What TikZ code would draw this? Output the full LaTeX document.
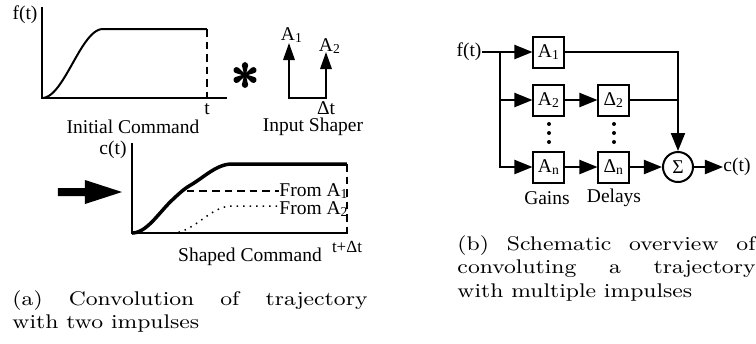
\documentclass[tikz,border=0pt]{standalone}
\usepackage{fontspec}
\newfontfamily\figserif{Liberation Serif}
\usetikzlibrary{arrows.meta, positioning}

\newcommand{\figlabel}{\figserif\fontsize{7.8pt}{9pt}\selectfont}

\begin{document}
\begin{tikzpicture}[
    x=0.4pt, y=-0.4pt,
    declare function={st(\u)=(1-cos(180*min(max(\u,0),1)))/2;},
    lbl/.style={inner sep=0pt, font=\figlabel},
    axis/.style={line width=0.6pt},
    dashline/.style={line width=0.6pt, dash pattern=on 3pt off 2pt},
    impulse/.style={{Triangle[length=6.8pt, width=4.6pt]}-{Triangle[length=6.8pt, width=4.6pt]}, line width=0.7pt},
    block/.style={rectangle, draw, line width=0.8pt, minimum size=12.4pt, inner sep=0pt, font=\figlabel},
    wire/.style={line width=0.8pt},
    arrow/.style={-{Triangle[length=7.2pt, width=5.6pt]}, line width=0.8pt},
    caption/.style={anchor=north west, inner sep=0pt, align=justify, yscale=0.86, transform shape, font=\fontsize{9.2pt}{11pt}\selectfont},
]
\useasboundingbox (0,0) rectangle (756,343);

% Initial command
\draw[axis] (42,7) -- (42,98) -- (227,98);
\node[lbl] (fof) at (25,15) {f(t)};
\draw[line width=0.8pt] plot[domain=42:103, samples=40] (\x, {98-69*st((\x-42)/61)}) -- (207,29);
\draw[dashline] (207,29) -- (207,98);
\node[lbl] (tend) at (207,109) {t};
\node[lbl] (initcmd) at (133,127) {Initial Command};

% Convolution sign
\begin{scope}[shift={(245,75)}]
  \foreach \a in {30,90,...,330}
    \fill[rotate=\a] (0pt,0.35pt) -- (3.9pt,1.25pt) arc[start angle=90, end angle=-90, radius=1.25pt] -- (0pt,-0.35pt) -- cycle;
\end{scope}

% Input shaper
\draw[impulse] (289,43) -- (289,98) -- (326,98) -- (326,52);
\node[lbl] (amp1) at (292,35) {A\textsubscript{1}};
\node[lbl] (amp2) at (330,46) {A\textsubscript{2}};
\node[lbl] (shift) at (326,108) {Δt};
\node[lbl] (shaper) at (313,127) {Input Shaper};

% Result
\fill (58,188) -- (85,188) -- (85,180) -- (122,192) -- (85,204) -- (85,196) -- (58,196) -- cycle;

% Shaped command
\draw[axis] (132,143) -- (132,233) -- (348,233);
\node[lbl] (cof) at (113,150) {c(t)};
\draw[line width=1.4pt] plot[domain=132:347, samples=120] (\x, {233-42*st((\x-132)/58)-27*st((\x-172)/60)});
\draw[dashline] (187,191) -- (279,191);
\draw[dotted, line width=0.6pt] plot[domain=172:279, samples=50] (\x, {233-27*st((\x-172)/60)});
\draw[dashline] (347,164) -- (347,233);
\node[lbl, anchor=west] (froma1) at (279,191) {From A\textsubscript{1}};
\node[lbl, anchor=west] (froma2) at (279,209) {From A\textsubscript{2}};
\node[lbl] (shapedcmd) at (250,257) {Shaped Command};
\node[lbl, font=\figserif\fontsize{6.8pt}{8pt}\selectfont] (tshift) at (347,247) {t+Δt};

% Schematic: gains and delays
\node[lbl] (fin) at (469,52) {f(t)};
\coordinate (split) at (500,52);
\node[block] (gA1) at (549,52) {A\textsubscript{1}};
\node[block] (gA2) at (549,100) {A\textsubscript{2}};
\node[block] (gAn) at (549,167) {A\textsubscript{n}};
\node[block] (dD2) at (614,100) {Δ\textsubscript{2}};
\node[block] (dDn) at (614,167) {Δ\textsubscript{n}};
\node[circle, draw, line width=0.8pt, minimum size=12pt, inner sep=0pt, font=\figlabel] (sum) at (678,167) {Σ};
\node[lbl, anchor=west] (cout) at (723,167) {c(t)};
\node[lbl] (gains) at (547,198) {Gains};
\node[lbl] (delays) at (614,198) {Delays};

\foreach \yy in {124,133,142} {
  \fill (549,\yy) circle (0.8pt);
  \fill (614,\yy) circle (0.8pt);
}

\draw[wire] (fin.east) -- (split);
\draw[arrow] (split) -- (gA1.west);
\draw[arrow] (split) |- (gAn.west);
\draw[arrow] (split |- gA2) -- (gA2.west);
\draw[arrow] (gA2) -- (dD2);
\draw[arrow] (gAn) -- (dDn);
\draw[arrow] (gA1.east) -| (sum.north);
\draw[wire] (dD2.east) -- (dD2.east -| sum);
\draw[arrow] (dDn) -- (sum);
\draw[arrow] (sum) -- (cout);

% Captions
\node[caption, text width=142pt] (capa) at (12,290) {(a) Convolution of trajectory\linebreak with two impulses};
\node[caption, text width=119.2pt] (capb) at (457,235) {(b) Schematic overview of convoluting a trajectory\linebreak with multiple impulses};

\end{tikzpicture}
\end{document}
